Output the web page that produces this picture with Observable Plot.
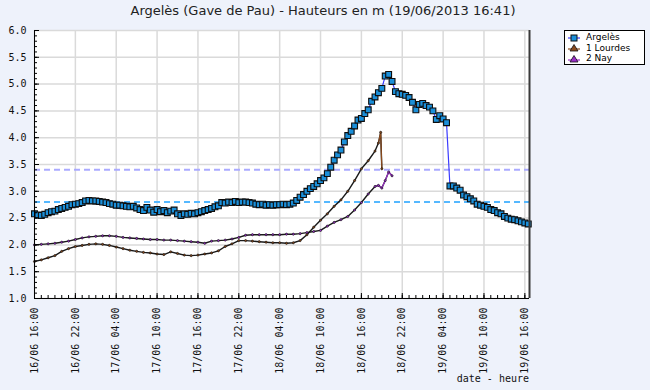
<!DOCTYPE html>
<html><head><meta charset="utf-8">
<script src="https://cdn.jsdelivr.net/npm/d3@7"></script>
<script src="https://cdn.jsdelivr.net/npm/@observablehq/plot@0.6"></script>
<style>
body{margin:0;background:#eef2fb;}
#wrap{position:relative;width:650px;height:390px;background:#eef2fb;overflow:hidden;}
#wrap svg.plot{position:absolute;left:0;top:0;}
#title{position:absolute;left:0;width:646px;top:3px;text-align:center;font:13px "DejaVu Sans",sans-serif;color:#222;}
#legend{position:absolute;left:564px;top:30px;width:79px;height:33px;border:1px solid #000;background:#fff;font:9px "DejaVu Sans",sans-serif;color:#000;}
#legend .row{position:absolute;left:3px;height:10px;line-height:10px;white-space:nowrap;}
#legend svg{vertical-align:middle;margin-right:6px;}
#xlabel{position:absolute;right:121px;top:373px;font:10px "DejaVu Sans Mono",monospace;color:#111;}
</style></head>
<body>
<div id="wrap">
  <div id="title"></div>
  <div id="legend"></div>
  <div id="xlabel"></div>
</div>
<script>
const titleText = "Argelès (Gave de Pau) - Hauteurs en m (19/06/2013 16:41)";
const xAxisLabel = "date - heure";
const seriesNames = ["Argelès", "1 Lourdes", "2 Nay"];
const startTime = "16/06/2013 16:00";
const endTime = "19/06/2013 16:41";
const xTickLabels = ["16/06 16:00","16/06 22:00","17/06 04:00","17/06 10:00","17/06 16:00","17/06 22:00","18/06 04:00","18/06 10:00","18/06 16:00","18/06 22:00","19/06 04:00","19/06 10:00","19/06 16:00"];
const yTicks = [1.0,1.5,2.0,2.5,3.0,3.5,4.0,4.5,5.0,5.5,6.0];
const thresholds = [2.8, 3.4];

// Argelès: one reading every 30 minutes from 16/06 16:00
const argelesStepHours = 0.5;
const argelesValues = [
 2.58,2.56,2.55,2.57,2.60,2.62,2.63,2.66,2.68,2.70,
 2.72,2.75,2.76,2.77,2.79,2.82,2.83,2.82,2.82,2.81,
 2.80,2.79,2.77,2.76,2.74,2.74,2.73,2.72,2.71,2.72,
 2.69,2.66,2.64,2.70,2.65,2.61,2.66,2.62,2.64,2.60,
 2.63,2.65,2.58,2.55,2.58,2.57,2.59,2.58,2.60,2.62,
 2.64,2.66,2.68,2.71,2.73,2.79,2.78,2.80,2.79,2.81,
 2.79,2.80,2.80,2.79,2.78,2.76,2.75,2.76,2.74,2.75,
 2.74,2.75,2.75,2.76,2.75,2.76,2.78,2.83,2.89,2.94,
 3.00,3.05,3.09,3.14,3.20,3.25,3.33,3.45,3.58,3.68,
 3.77,3.92,4.04,4.12,4.22,4.33,4.36,4.45,4.52,4.68,
 4.76,4.84,4.92,5.15,5.18,5.05,4.86,4.82,4.81,4.79,
 4.75,4.66,4.52,4.62,4.64,4.60,4.57,4.50,4.34,4.41,
 4.35,4.28,3.10,3.10,3.06,3.02,2.93,2.90,2.86,2.82,
 2.76,2.74,2.72,2.70,2.66,2.64,2.60,2.58,2.53,2.50,
 2.48,2.47,2.45,2.43,2.41,2.39];

const lourdesHours = [0,1,2,3,4,5,6,7,8,9,10,11,12,13,14,15,16,17,18,19,20,21,22,23,24,25,26,27,28,29,30,31,32,33,34,35,36,37,38,39,40,41,42,43,44,45,46,47,48,49,50,50.5,50.83,51];
const lourdesValues = [
 1.69,1.72,1.76,1.80,1.88,1.93,1.97,1.99,2.01,2.02,
 2.01,1.99,1.96,1.93,1.90,1.88,1.86,1.85,1.83,1.82,
 1.87,1.84,1.81,1.80,1.81,1.83,1.85,1.89,1.97,2.02,
 2.08,2.08,2.07,2.06,2.05,2.04,2.04,2.03,2.04,2.08,
 2.19,2.33,2.46,2.58,2.72,2.84,3.00,3.20,3.42,3.57,3.75,
 3.90,4.10,3.42];

const nayHours = [0,1,2,3,4,5,6,7,8,9,10,11,12,13,14,15,16,17,18,19,20,21,22,23,24,25,26,27,28,29,30,31,32,33,34,35,36,37,38,39,40,41,42,43,44,45,46,47,48,49,50,50.5,51,51.5,52,52.5];
const nayValues = [
 2.00,2.01,2.02,2.03,2.05,2.07,2.10,2.13,2.15,2.16,
 2.17,2.17,2.16,2.14,2.13,2.12,2.11,2.10,2.10,2.09,
 2.09,2.08,2.07,2.06,2.05,2.03,2.07,2.08,2.09,2.11,
 2.14,2.18,2.19,2.19,2.19,2.19,2.19,2.20,2.20,2.21,
 2.23,2.25,2.27,2.35,2.42,2.47,2.53,2.65,2.79,2.95,3.09,
 3.11,3.06,3.20,3.36,3.29];

const parseFull = d3.utcParse("%d/%m/%Y %H:%M");
const xStart = parseFull(startTime);
const xEnd = parseFull(endTime);
const atHour = h => new Date(+xStart + h * 3600e3);
const xTicks = xTickLabels.map(s => parseFull(s.replace(" ", "/2013 ")));
const xMinor = d3.utcHour.range(xStart, xEnd);
const yMinor = d3.range(10, 61).map(v => v / 10);

const argeles = argelesValues.map((v, i) => ({t: atHour(i * argelesStepHours), v}));
const lourdes = lourdesValues.map((v, i) => ({t: atHour(lourdesHours[i]), v}));
const nay = nayValues.map((v, i) => ({t: atHour(nayHours[i]), v}));

const colors = {argeles: "#1b8fd9", argelesLine: "#3a3aff", lourdes: "#8b4a1c", nay: "#9a2fc8"};
const fmt = d3.utcFormat("%d/%m %H:%M");
const axisFont = {fontFamily: "DejaVu Sans Mono", fontSize: 10, fill: "#111"};

const chart = Plot.plot({
  width: 650, height: 390,
  marginLeft: 34, marginRight: 121, marginTop: 30, marginBottom: 92,
  style: {background: "transparent", fontFamily: "DejaVu Sans Mono", fontSize: "10px", color: "#111"},
  x: {type: "utc", domain: [xStart, xEnd], label: null},
  y: {domain: [1, 6], label: null},
  marks: [
    Plot.frame({fill: "white", stroke: null}),
    Plot.gridX(xTicks, {stroke: "#dadada", strokeOpacity: 1, strokeWidth: 1.5}),
    Plot.gridY(yTicks, {stroke: "#dadada", strokeOpacity: 1, strokeWidth: 1.5}),
    Plot.ruleY([thresholds[0]], {stroke: "#55b8ff", strokeWidth: 2, strokeDasharray: "6,4"}),
    Plot.ruleY([thresholds[1]], {stroke: "#aaaaff", strokeWidth: 2, strokeDasharray: "6,4"}),
    Plot.line(lourdes, {x: "t", y: "v", stroke: "#1a1a1a", strokeWidth: 1.4}),
    Plot.line(lourdes.slice(-3), {x: "t", y: "v", stroke: colors.lourdes, strokeWidth: 1.2}),
    Plot.dot(lourdes, {x: "t", y: "v", r: 1.1, fill: colors.lourdes, stroke: "#111", strokeWidth: 0.6}),
    Plot.line(nay, {x: "t", y: "v", stroke: "#1a1a1a", strokeWidth: 1.4}),
    Plot.line(nay.slice(-6), {x: "t", y: "v", stroke: colors.nay, strokeWidth: 1.2}),
    Plot.dot(nay, {x: "t", y: "v", r: 1.1, fill: colors.nay, stroke: "#111", strokeWidth: 0.6}),
    Plot.line(argeles, {x: "t", y: "v", stroke: colors.argelesLine, strokeWidth: 1.2}),
    Plot.dot(argeles, {x: "t", y: "v", symbol: "square", r: 3.3, fill: colors.argeles, stroke: "#0d0d0d", strokeWidth: 1.1}),
    Plot.axisY(yTicks, {tickFormat: d => d.toFixed(1), tickSize: 0, tickPadding: 8, ...axisFont}),
    Plot.axisY(yTicks, {text: null, tickSize: -5, stroke: "#000"}),
    Plot.axisY(yMinor, {text: null, tickSize: -3, stroke: "#000"}),
    Plot.axisX(xTicks, {tickFormat: fmt, tickRotate: -90, tickSize: 0, tickPadding: 9, ...axisFont}),
    Plot.axisX(xTicks, {text: null, tickSize: -5, stroke: "#000"}),
    Plot.axisX(xMinor, {text: null, tickSize: -3, stroke: "#000"}),
    Plot.ruleX([xStart], {stroke: "#000", strokeWidth: 1}),
    Plot.ruleY([1], {stroke: "#000", strokeWidth: 1}),
    Plot.ruleX([xEnd], {stroke: "#3a3a3a", strokeWidth: 2})
  ]
});
chart.classList.add("plot");
document.getElementById("wrap").prepend(chart);
document.getElementById("title").textContent = titleText;
document.getElementById("xlabel").textContent = xAxisLabel;

const symbols = [
  `<svg width="12" height="8"><line x1="0" y1="4" x2="12" y2="4" stroke="${colors.argelesLine}" stroke-width="1.2"/><rect x="3" y="1" width="6" height="6" fill="${colors.argeles}" stroke="#111" stroke-width="1"/></svg>`,
  `<svg width="12" height="8"><line x1="0" y1="5" x2="12" y2="5" stroke="${colors.lourdes}" stroke-width="1.2"/><path d="M6,0.5 L10,7 L2,7 Z" fill="${colors.lourdes}" stroke="#111" stroke-width="0.8"/></svg>`,
  `<svg width="12" height="8"><line x1="0" y1="5" x2="12" y2="5" stroke="${colors.nay}" stroke-width="1.2"/><path d="M6,0.5 L10,7 L2,7 Z" fill="${colors.nay}" stroke="#111" stroke-width="0.8"/></svg>`
];
const legend = document.getElementById("legend");
seriesNames.forEach((name, i) => {
  const row = document.createElement("div");
  row.className = "row";
  row.style.top = (1 + i * 10.5) + "px";
  row.innerHTML = symbols[i] + name;
  legend.appendChild(row);
});
</script>
</body></html>
